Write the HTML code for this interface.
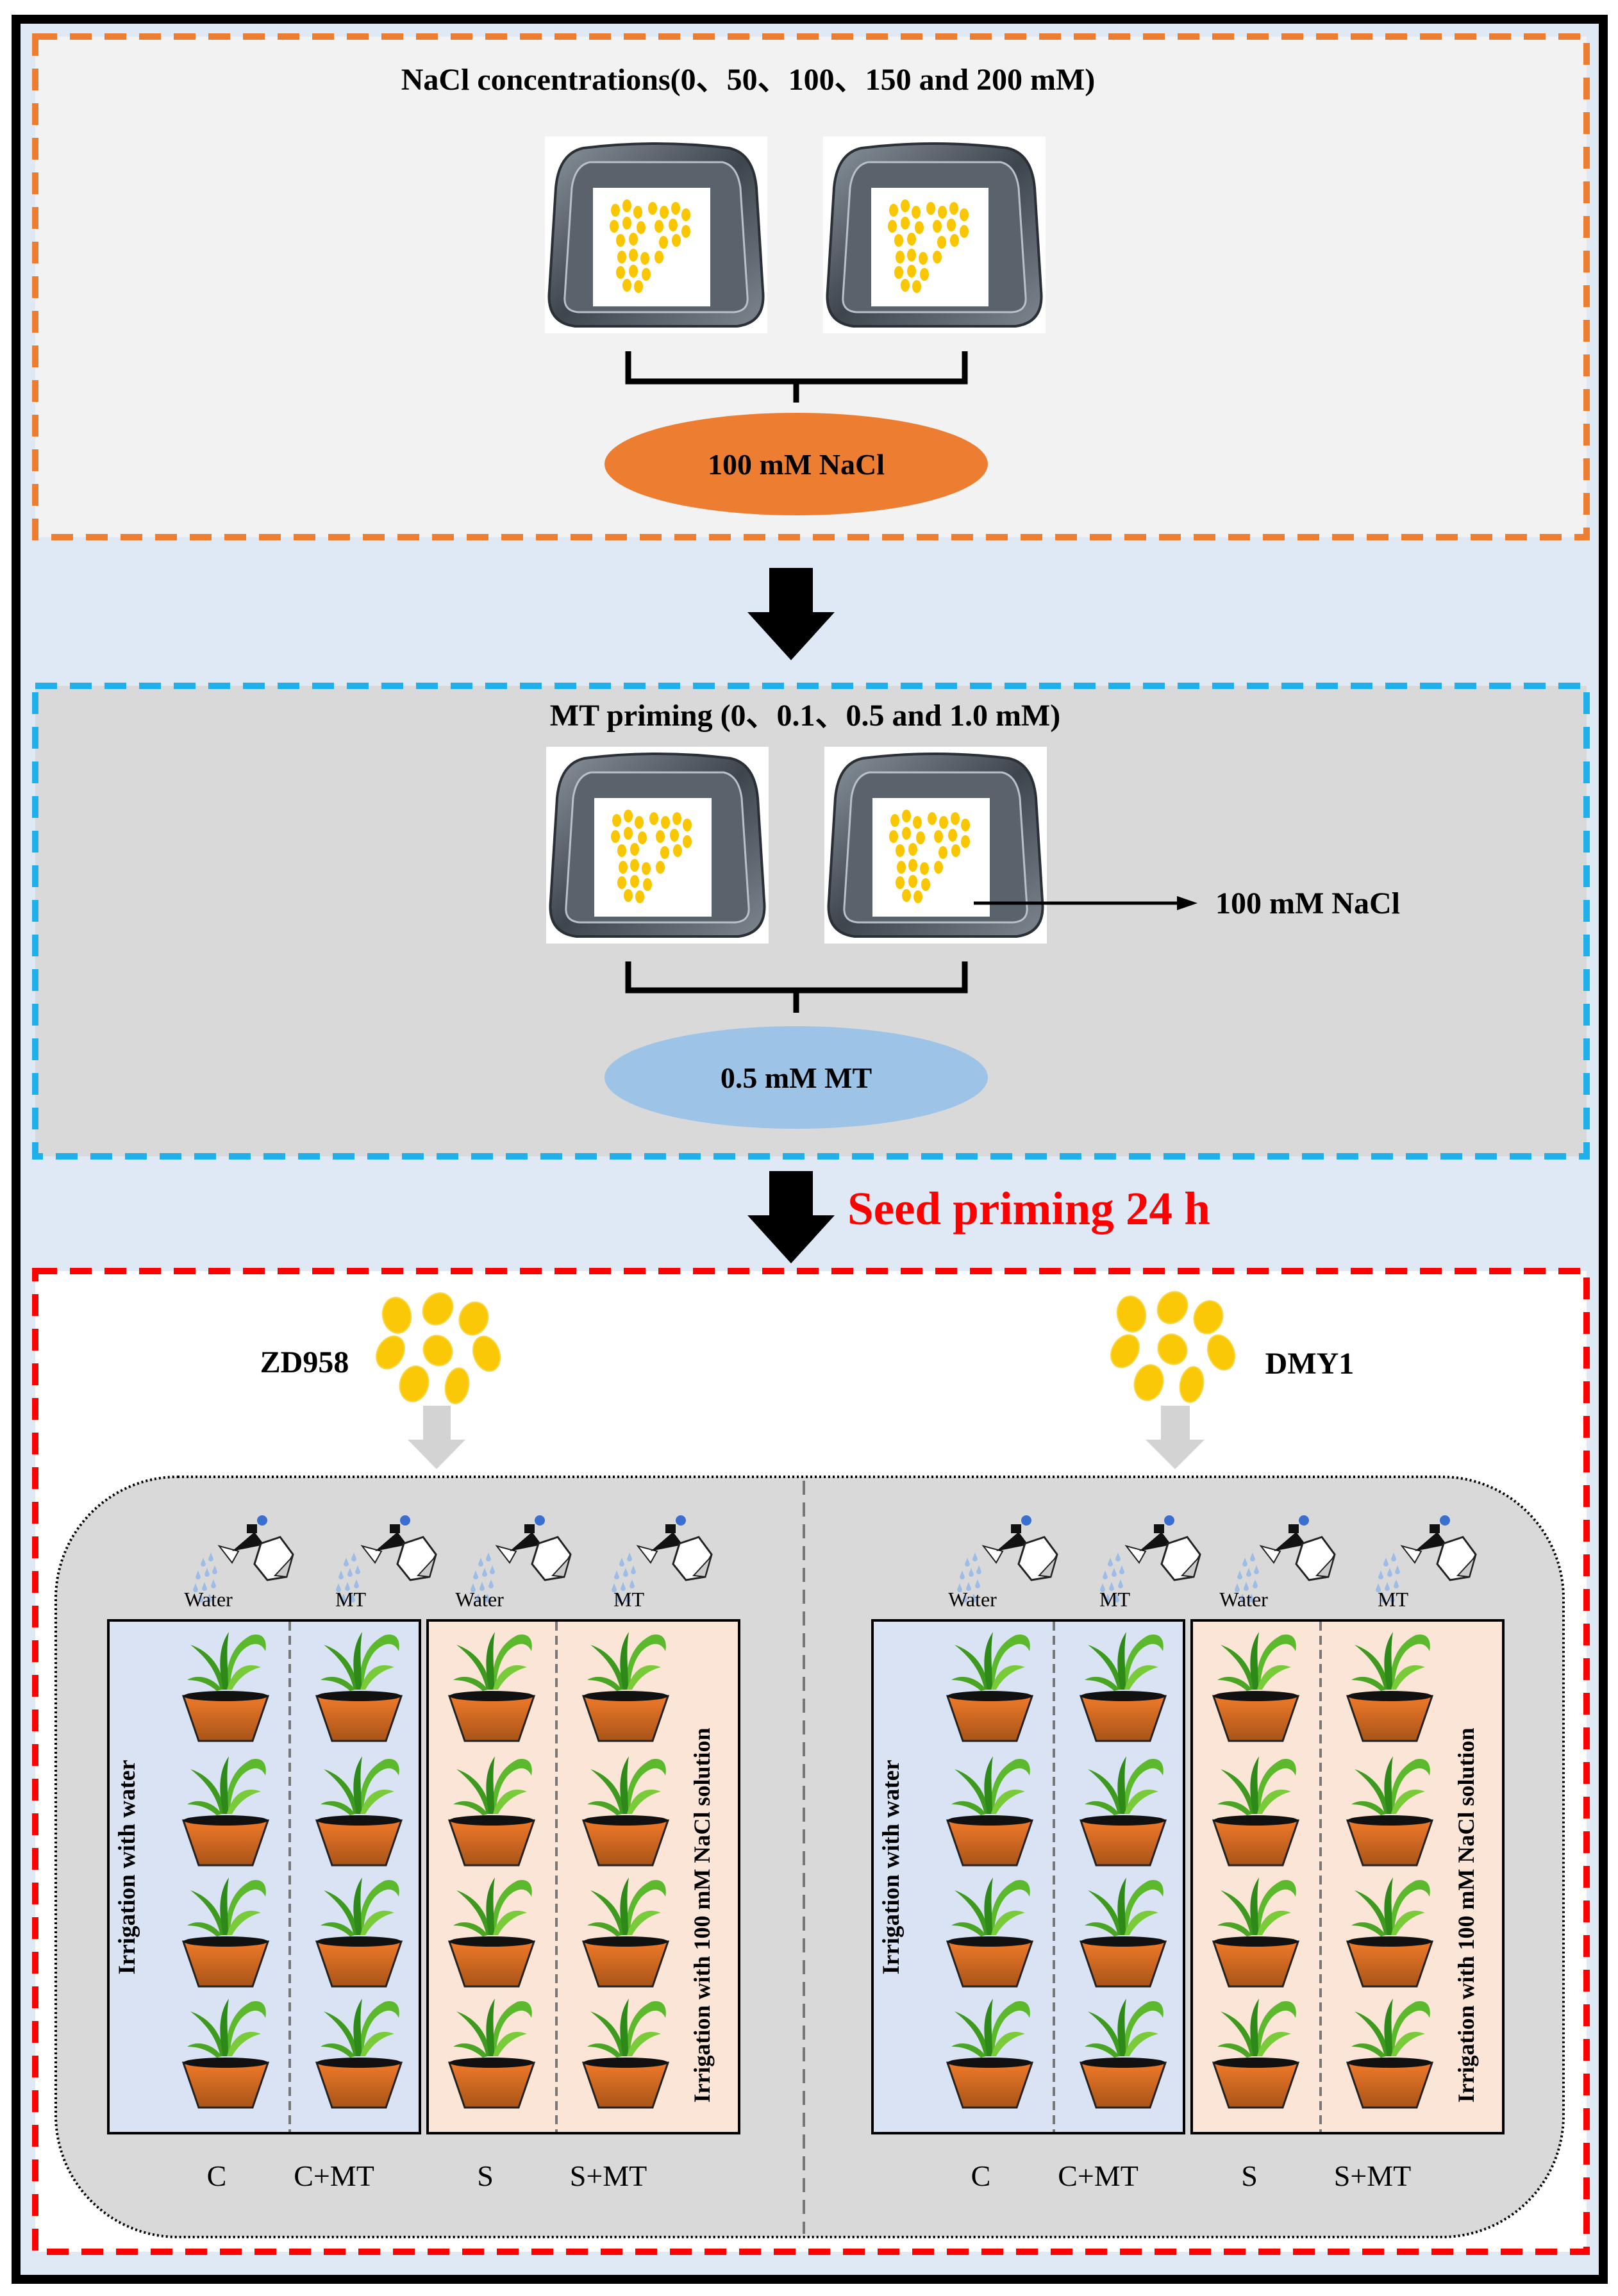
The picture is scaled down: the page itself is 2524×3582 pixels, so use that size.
<!DOCTYPE html>
<html><head><meta charset="utf-8"><style>
html,body{margin:0;padding:0;background:#fff}
svg{display:block}
text{font-family:"Liberation Serif",serif}
</style></head><body>
<svg width="2524" height="3582" viewBox="0 0 2524 3582" xmlns="http://www.w3.org/2000/svg">
<defs>
<linearGradient id="potg" x1="0" y1="0" x2="0" y2="1"><stop offset="0" stop-color="#f07a2a"/><stop offset="1" stop-color="#a85418"/></linearGradient>
<linearGradient id="trayg" x1="0" y1="0" x2="1" y2="1"><stop offset="0" stop-color="#8a939c"/><stop offset="0.5" stop-color="#3d454d"/><stop offset="1" stop-color="#7d868f"/></linearGradient>
<g id="tray">
  <rect x="0" y="0" width="347" height="307" fill="#fff"/>
  <path d="M60,18 Q173,4 287,18 Q325,26 330,80 L340,240 Q345,290 300,296 L47,296 Q2,290 7,240 L17,80 Q22,26 60,18 Z" fill="url(#trayg)" stroke="#2a3036" stroke-width="4"/>
  <path d="M70,40 L277,40 Q300,45 305,80 L316,250 Q318,272 295,274 L52,274 Q29,272 31,250 L42,80 Q47,45 70,40 Z" fill="#5a636b" stroke="#b8c0c8" stroke-width="3"/>
  <rect x="75" y="80" width="183" height="185" fill="#fff"/>
  <g fill="#f9c600">
    <ellipse cx="110" cy="115" rx="7" ry="10"/><ellipse cx="128" cy="108" rx="7" ry="10"/><ellipse cx="145" cy="118" rx="7" ry="10"/><ellipse cx="168" cy="112" rx="7" ry="10"/><ellipse cx="186" cy="118" rx="7" ry="10"/><ellipse cx="204" cy="112" rx="7" ry="10"/><ellipse cx="220" cy="122" rx="7" ry="10"/>
    <ellipse cx="108" cy="140" rx="7" ry="10"/><ellipse cx="128" cy="135" rx="7" ry="10"/><ellipse cx="150" cy="142" rx="7" ry="10"/><ellipse cx="178" cy="140" rx="7" ry="10"/><ellipse cx="200" cy="138" rx="7" ry="10"/><ellipse cx="220" cy="148" rx="7" ry="10"/>
    <ellipse cx="118" cy="162" rx="7" ry="10"/><ellipse cx="138" cy="160" rx="7" ry="10"/><ellipse cx="185" cy="165" rx="7" ry="10"/><ellipse cx="205" cy="162" rx="7" ry="10"/>
    <ellipse cx="120" cy="188" rx="7" ry="10"/><ellipse cx="138" cy="185" rx="7" ry="10"/><ellipse cx="156" cy="190" rx="7" ry="10"/><ellipse cx="178" cy="188" rx="7" ry="10"/>
    <ellipse cx="118" cy="212" rx="7" ry="10"/><ellipse cx="138" cy="210" rx="7" ry="10"/><ellipse cx="158" cy="215" rx="7" ry="10"/><ellipse cx="128" cy="232" rx="7" ry="10"/><ellipse cx="146" cy="234" rx="7" ry="10"/>
  </g>
</g>
<g id="plant">
  <path d="M-2,-10 C-5,-45 -25,-70 -55,-80 C-30,-60 -15,-40 -8,-10 Z" fill="#3d9a1e"/>
  <path d="M0,-10 C0,-50 10,-80 40,-95 C60,-100 65,-85 62,-70 C55,-85 40,-85 25,-70 C12,-55 8,-35 6,-10 Z" fill="#5cb82c"/>
  <path d="M-4,-10 C-12,-50 -10,-78 5,-100 C0,-70 4,-45 4,-10 Z" fill="#2e8a18"/>
  <path d="M2,-10 C10,-40 30,-55 55,-45 C35,-40 20,-28 10,-10 Z" fill="#7acb3a"/>
  <path d="M-6,-10 C-20,-30 -45,-35 -60,-25 C-40,-25 -25,-18 -14,-8 Z" fill="#4aa524"/>
  <path d="M-66,0 L66,0 L42,70 L-42,70 Z" fill="url(#potg)" stroke="#222" stroke-width="3"/>
  <ellipse cx="0" cy="0" rx="66" ry="8" fill="#111"/>
</g>
<g id="spray">
  <g fill="#9dbde6">
    <path d="M-40,10 l-4,10 a4,4 0 0 0 8,0z"/><path d="M-28,2 l-4,10 a4,4 0 0 0 8,0z"/><path d="M-48,30 l-4,10 a4,4 0 0 0 8,0z"/><path d="M-34,26 l-4,10 a4,4 0 0 0 8,0z"/><path d="M-22,22 l-4,10 a4,4 0 0 0 8,0z"/><path d="M-52,50 l-4,10 a4,4 0 0 0 8,0z"/><path d="M-38,48 l-4,10 a4,4 0 0 0 8,0z"/><path d="M-24,44 l-4,10 a4,4 0 0 0 8,0z"/><path d="M-44,66 l-4,10 a4,4 0 0 0 8,0z"/><path d="M-30,66 l-4,10 a4,4 0 0 0 8,0z"/>
  </g>
  <path d="M-15,-8 L15,0 L5,18 Z" fill="#fff" stroke="#222" stroke-width="2"/>
  <path d="M5,0 L40,-30 L55,-10 Z" fill="#111"/>
  <rect x="28" y="-42" width="16" height="14" fill="#111"/>
  <circle cx="52" cy="-48" r="8" fill="#3a6fd0"/>
  <path d="M50,-12 L80,-22 L100,5 L90,40 L60,45 L40,20 Z" fill="#fff" stroke="#222" stroke-width="3"/>
  <path d="M72,38 L96,12 L100,5 L90,40 Z" fill="#ccc" stroke="#222" stroke-width="2"/>
</g>
<g id="seeds">
  <g fill="#fbc808" stroke="#f5d84a" stroke-width="2">
    <ellipse cx="-62" cy="-45" rx="22" ry="28" transform="rotate(-10 -62 -45)"/>
    <ellipse cx="2" cy="-55" rx="22" ry="26" transform="rotate(35 2 -55)"/>
    <ellipse cx="58" cy="-40" rx="22" ry="26" transform="rotate(20 58 -40)"/>
    <ellipse cx="-72" cy="13" rx="20" ry="27" transform="rotate(30 -72 13)"/>
    <ellipse cx="2" cy="10" rx="22" ry="24" transform="rotate(-30 2 10)"/>
    <ellipse cx="78" cy="15" rx="20" ry="28" transform="rotate(-20 78 15)"/>
    <ellipse cx="-35" cy="62" rx="22" ry="28" transform="rotate(15 -35 62)"/>
    <ellipse cx="32" cy="65" rx="18" ry="28" transform="rotate(10 32 65)"/>
  </g>
</g>
<g id="half">
  <use href="#spray" x="357" y="2420"/><use href="#spray" x="580" y="2420"/><use href="#spray" x="790" y="2420"/><use href="#spray" x="1010" y="2420"/>
  <text x="325" y="2506" font-size="32" text-anchor="middle">Water</text>
  <text x="547" y="2506" font-size="32" text-anchor="middle">MT</text>
  <text x="748" y="2506" font-size="32" text-anchor="middle">Water</text>
  <text x="981" y="2506" font-size="32" text-anchor="middle">MT</text>
  <rect x="169" y="2528" width="486" height="800" fill="#dae3f3" stroke="#000" stroke-width="4"/>
  <rect x="667" y="2528" width="486" height="800" fill="#fbe5d6" stroke="#000" stroke-width="4"/>
  <line x1="452" y1="2530" x2="452" y2="3326" stroke="#777" stroke-width="4" stroke-dasharray="14,8"/>
  <line x1="868" y1="2530" x2="868" y2="3326" stroke="#777" stroke-width="4" stroke-dasharray="14,8"/>
  <text transform="translate(210,2913) rotate(-90)" font-size="37" font-weight="bold" text-anchor="middle">Irrigation with water</text>
  <text transform="translate(1107,2988) rotate(-90)" font-size="36" font-weight="bold" text-anchor="middle">Irrigation with 100 mM NaCl solution</text>
  <g>
    <use href="#plant" x="352" y="2646"/><use href="#plant" x="560" y="2646"/><use href="#plant" x="767" y="2646"/><use href="#plant" x="976" y="2646"/>
    <use href="#plant" x="352" y="2840"/><use href="#plant" x="560" y="2840"/><use href="#plant" x="767" y="2840"/><use href="#plant" x="976" y="2840"/>
    <use href="#plant" x="352" y="3029"/><use href="#plant" x="560" y="3029"/><use href="#plant" x="767" y="3029"/><use href="#plant" x="976" y="3029"/>
    <use href="#plant" x="352" y="3218"/><use href="#plant" x="560" y="3218"/><use href="#plant" x="767" y="3218"/><use href="#plant" x="976" y="3218"/>
  </g>
  <text x="338" y="3410" font-size="46" text-anchor="middle">C</text>
  <text x="521" y="3410" font-size="46" text-anchor="middle">C+MT</text>
  <text x="757" y="3410" font-size="46" text-anchor="middle">S</text>
  <text x="949" y="3410" font-size="46" text-anchor="middle">S+MT</text>
</g>
</defs>

<rect x="0" y="0" width="2524" height="3582" fill="#fff"/>
<rect x="25" y="30" width="2476" height="3526" fill="#dfe9f5" stroke="#000" stroke-width="14"/>

<rect x="55" y="57" width="2420" height="781" fill="#f2f2f2" stroke="#ed7d31" stroke-width="10" stroke-dasharray="34,20"/>
<text x="1167" y="140" font-size="48" font-weight="bold" text-anchor="middle">NaCl concentrations(0、50、100、150 and 200 mM)</text>
<use href="#tray" x="850" y="213"/><use href="#tray" x="1284" y="213"/>
<path d="M980,548 L980,595 L1505,595 L1505,548 M1242,595 L1242,628" fill="none" stroke="#000" stroke-width="9"/>
<ellipse cx="1242" cy="724" rx="299" ry="80" fill="#ed7d31"/>
<text x="1242" y="740" font-size="46" font-weight="bold" text-anchor="middle">100 mM NaCl</text>

<path d="M1200,886 L1268,886 L1268,955 L1302,955 L1234,1030 L1166,955 L1200,955 Z" fill="#000"/>

<rect x="55" y="1070" width="2420" height="734" fill="#d9d9d9" stroke="#1fb0ec" stroke-width="10" stroke-dasharray="34,20"/>
<text x="1256" y="1132" font-size="48" font-weight="bold" text-anchor="middle">MT priming (0、0.1、0.5 and 1.0 mM)</text>
<use href="#tray" x="852" y="1165"/><use href="#tray" x="1286" y="1165"/>
<line x1="1519" y1="1409" x2="1840" y2="1409" stroke="#000" stroke-width="5"/>
<path d="M1868,1409 L1836,1398 L1836,1420 Z" fill="#000"/>
<text x="1896" y="1425" font-size="48" font-weight="bold">100 mM NaCl</text>
<path d="M980,1500 L980,1545 L1505,1545 L1505,1500 M1242,1545 L1242,1580" fill="none" stroke="#000" stroke-width="9"/>
<ellipse cx="1242" cy="1681" rx="299" ry="80" fill="#9dc3e6"/>
<text x="1242" y="1697" font-size="46" font-weight="bold" text-anchor="middle">0.5 mM MT</text>

<path d="M1200,1827 L1268,1827 L1268,1896 L1302,1896 L1234,1971 L1166,1896 L1200,1896 Z" fill="#000"/>
<text x="1322" y="1910" font-size="73" font-weight="bold" fill="#f00">Seed priming 24 h</text>

<rect x="55" y="1983" width="2420" height="1530" fill="#fff" stroke="#f00" stroke-width="10" stroke-dasharray="34,20"/>
<text x="475" y="2141" font-size="48" font-weight="bold" text-anchor="middle">ZD958</text>
<use href="#seeds" x="681" y="2097"/>
<text x="2043" y="2143" font-size="48" font-weight="bold" text-anchor="middle">DMY1</text>
<use href="#seeds" x="1827" y="2095"/>
<path d="M660,2193 L703,2193 L703,2246 L726,2246 L681,2292 L636,2246 L660,2246 Z" fill="#d3d3d3"/>
<path d="M1811,2193 L1856,2193 L1856,2246 L1879,2246 L1833,2292 L1787,2246 L1811,2246 Z" fill="#d3d3d3"/>

<rect x="87" y="2304" width="2352" height="1186" rx="190" ry="190" fill="#d9d9d9" stroke="#000" stroke-width="4" stroke-dasharray="3,4"/>
<line x1="1254" y1="2310" x2="1254" y2="3485" stroke="#777" stroke-width="4" stroke-dasharray="22,12"/>

<use href="#half"/>
<use href="#half" x="1192"/>
</svg>
</body></html>
